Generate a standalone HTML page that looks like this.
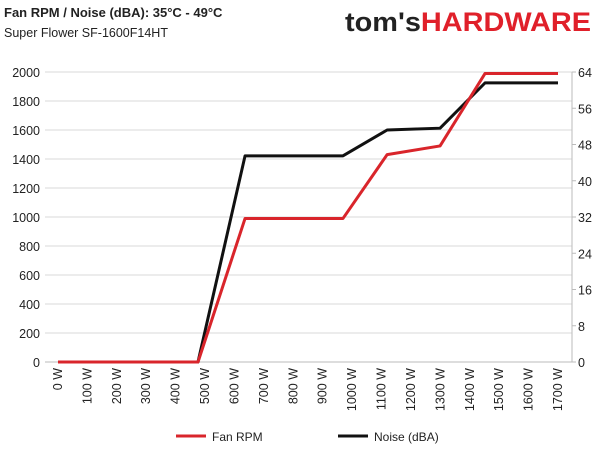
<!DOCTYPE html>
<html><head><meta charset="utf-8"><style>
body{margin:0;background:#fff;font-family:"Liberation Sans",sans-serif;}
svg text{font-family:"Liberation Sans",sans-serif;}
</style></head><body>
<svg id="c" width="600" height="450" viewBox="0 0 600 450">
<text x="4" y="17" font-size="13" font-weight="bold" fill="#222">Fan RPM / Noise (dBA): 35°C - 49°C</text>
<text x="4" y="37" font-size="12.5" fill="#222">Super Flower SF-1600F14HT</text>
<text x="345" y="31" font-size="27" font-weight="bold" fill="#222" textLength="246" lengthAdjust="spacingAndGlyphs">tom's<tspan fill="#e0202a">HARDWARE</tspan></text>
<g id="grid"></g><g id="marks"></g><g id="axes"></g>
<g>
<line x1="176" y1="436" x2="206" y2="436" stroke="#d9252b" stroke-width="3"/>
<text x="212" y="441" font-size="12" fill="#222">Fan RPM</text>
<line x1="338" y1="436" x2="368" y2="436" stroke="#111" stroke-width="3"/>
<text x="374" y="441" font-size="12" fill="#222">Noise (dBA)</text>
</g>
</svg>
<script>
const xTicks=[0,100,200,300,400,500,600,700,800,900,1000,1100,1200,1300,1400,1500,1600,1700];
const yLeftTicks=[0,200,400,600,800,1000,1200,1400,1600,1800,2000];
const yRightTicks=[0,8,16,24,32,40,48,56,64];
const loads=[0,476,636,969,1119,1299,1452,1700];
const fanRpm=[0,0,990,990,1430,1490,1990,1990];
const noise=[0,0,45.5,45.5,51.2,51.6,61.6,61.6];
const NS='http://www.w3.org/2000/svg';
const X=w=>58+w*(500/1700), YL=v=>362-v*(290/2000), YR=v=>362-v*(290/64);
function mk(t,a,p){const e=document.createElementNS(NS,t);for(const k in a)e.setAttribute(k,a[k]);p.appendChild(e);return e;}
const grid=document.getElementById('grid'),axes=document.getElementById('axes'),marks=document.getElementById('marks');
yLeftTicks.forEach(v=>{const l=mk('line',{x1:45,x2:572,y1:YL(v),y2:YL(v),stroke:v===0?'#bbb':'#d9d9d9','stroke-width':1},grid);


const t=mk('text',{x:40,y:YL(v)+5,'font-size':12.5,fill:'#222','text-anchor':'end'},axes);t.textContent=v;

});
yRightTicks.forEach(v=>{const t=mk('text',{x:578,y:YR(v)+5,'font-size':12.5,fill:'#222'},axes);t.textContent=v;


mk('line',{x1:572,x2:576,y1:YR(v),y2:YR(v),stroke:'#bbb'},axes);});
mk('line',{x1:572,x2:572,y1:72,y2:362,stroke:'#bbb'},axes);
xTicks.forEach(v=>{const x=X(v);const t=mk('text',{x:0,y:0,'font-size':12.5,fill:'#222','text-anchor':'end',transform:`translate(${x+4},368) rotate(-90)`},axes);t.textContent=v+' W';

});
function series(vals,yf,col,name){const p=mk('polyline',{points:loads.map((w,i)=>X(w)+','+yf(vals[i])).join(' '),fill:'none',stroke:col,'stroke-width':3,'stroke-linejoin':'round'},marks);

}
series(noise,YR,'#111','noise-line');
series(fanRpm,YL,'#d9252b','fan-rpm-line');
</script>
</body></html>
